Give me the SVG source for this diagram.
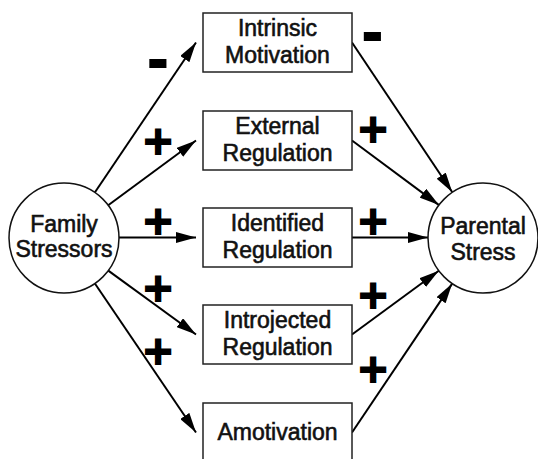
<svg xmlns="http://www.w3.org/2000/svg" width="538" height="459" viewBox="0 0 538 459">
<style>
.lbl{font-family:"Liberation Sans",Arial,sans-serif;font-size:23px;fill:#111;stroke:#111;stroke-width:0.6;text-anchor:middle}
.box{fill:#fff;stroke:#222;stroke-width:1.5}
.circ{fill:#fff;stroke:#111;stroke-width:1.5}
.edge{stroke:#000;stroke-width:2;fill:none;marker-end:url(#ah)}
.sign{font-family:"DejaVu Sans",sans-serif;font-weight:bold;fill:#000;stroke:#000;stroke-width:1.8;text-anchor:middle}
.plus{font-size:39px}
.minus{font-size:50px}
</style>
<defs>
<marker id="ah" markerUnits="userSpaceOnUse" markerWidth="20" markerHeight="11" refX="20" refY="5.5" orient="auto" viewBox="0 0 20 11">
<path d="M0,0 L20,5.5 L0,11 z" fill="#000"/>
</marker>
</defs>
<g id="connectors">
<line class="edge" x1="94.8" y1="192.5" x2="196" y2="42.5"/>
<line class="edge" x1="108.2" y1="205.2" x2="196" y2="140.5"/>
<line class="edge" x1="119" y1="237.5" x2="196" y2="237.5"/>
<line class="edge" x1="108.3" y1="270.6" x2="196" y2="334.5"/>
<line class="edge" x1="94.9" y1="283.5" x2="196" y2="432.5"/>
<line class="edge" x1="352" y1="42.5" x2="452.3" y2="192.3"/>
<line class="edge" x1="352" y1="140.5" x2="439" y2="205.1"/>
<line class="edge" x1="352" y1="237.5" x2="428" y2="237.5"/>
<line class="edge" x1="352" y1="334.5" x2="438.8" y2="270.7"/>
<line class="edge" x1="352" y1="432.5" x2="452.2" y2="283.6"/>
</g>
<g id="signs">
<text class="sign minus" x="158" y="78">-</text>
<text class="sign plus" x="158" y="154">+</text>
<text class="sign plus" x="158" y="233.5">+</text>
<text class="sign plus" x="158" y="301">+</text>
<text class="sign plus" x="158" y="364">+</text>
<text class="sign minus" x="372.5" y="51">-</text>
<text class="sign plus" x="373" y="142">+</text>
<text class="sign plus" x="373" y="233.5">+</text>
<text class="sign plus" x="373" y="308">+</text>
<text class="sign plus" x="373" y="382">+</text>
</g>
<g id="family-stressors">
<circle class="circ" cx="64" cy="238" r="55"/>
<text class="lbl" x="64" y="232">Family</text>
<text class="lbl" x="64" y="257">Stressors</text>
</g>
<g id="intrinsic-motivation">
<rect class="box" x="203" y="13" width="149" height="59"/>
<text class="lbl" x="277.5" y="36">Intrinsic</text>
<text class="lbl" x="277.5" y="63">Motivation</text>
</g>
<g id="external-regulation">
<rect class="box" x="203" y="111" width="149" height="59"/>
<text class="lbl" x="277.5" y="134">External</text>
<text class="lbl" x="277.5" y="161">Regulation</text>
</g>
<g id="identified-regulation">
<rect class="box" x="203" y="208" width="149" height="59"/>
<text class="lbl" x="277.5" y="231">Identified</text>
<text class="lbl" x="277.5" y="258">Regulation</text>
</g>
<g id="introjected-regulation">
<rect class="box" x="203" y="305" width="149" height="59"/>
<text class="lbl" x="277.5" y="328">Introjected</text>
<text class="lbl" x="277.5" y="355">Regulation</text>
</g>
<g id="amotivation">
<rect class="box" x="203" y="403" width="149" height="60"/>
<text class="lbl" x="277.5" y="440">Amotivation</text>
</g>
<g id="parental-stress">
<circle class="circ" cx="483" cy="238" r="55"/>
<text class="lbl" x="483" y="234">Parental</text>
<text class="lbl" x="483" y="260">Stress</text>
</g>
</svg>
